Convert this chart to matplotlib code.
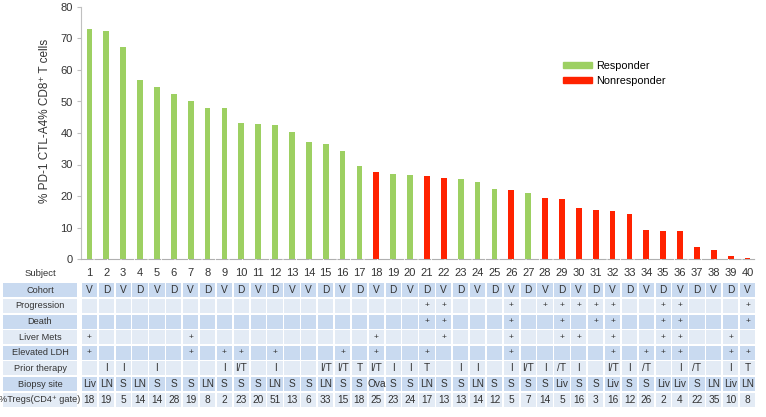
import matplotlib
matplotlib.use("Agg")
import matplotlib.pyplot as plt
from matplotlib.patches import Rectangle, Patch
from matplotlib.transforms import blended_transform_factory

plt.rcParams['font.family'] = ['Liberation Sans', 'DejaVu Sans']

# data
subjects = list(range(1, 41))
pct_pd1_ctla4 = [72.9, 72.5, 67.3, 56.7, 54.5, 52.4, 50.2, 48.0, 47.8, 43.2,
                 42.8, 42.5, 40.2, 37.1, 36.4, 34.3, 29.6, 27.7, 27.1, 26.8,
                 26.3, 25.6, 25.4, 24.5, 22.2, 21.9, 21.0, 19.5, 19.0, 16.2,
                 15.5, 15.2, 14.4, 9.1, 9.0, 9.0, 3.7, 2.9, 0.9, 0.3]
responder = ['R'] * 17 + ['N', 'R', 'R', 'N', 'N', 'R', 'R', 'R', 'N', 'R'] + ['N'] * 13

cohort = ['V', 'D', 'V', 'D', 'V', 'D', 'V', 'D', 'V', 'D', 'V', 'D', 'V', 'V',
          'D', 'V', 'D', 'V', 'D', 'V', 'D', 'V', 'D', 'V', 'D', 'V', 'D', 'V',
          'D', 'V', 'D', 'V', 'D', 'V', 'D', 'V', 'D', 'V', 'D', 'V']
progression = [21, 22, 26, 28, 29, 30, 31, 32, 35, 36, 40]
death = [21, 22, 26, 29, 31, 32, 35, 36, 40]
liver_mets = [1, 7, 18, 22, 26, 29, 30, 32, 35, 36, 39]
elevated_ldh = [1, 7, 9, 10, 12, 16, 18, 21, 26, 32, 34, 35, 36, 39, 40]
prior_therapy = ['', 'I', 'I', '', 'I', '', '', '', 'I', 'I/T',
                 '', 'I', '', '', 'I/T', 'I/T', 'T', 'I/T', 'I', 'I',
                 'T', '', 'I', 'I', '', 'I', 'I/T', 'I', '/T', 'I',
                 '', 'I/T', 'I', '/T', '', 'I', '/T', '', 'I', 'T']
biopsy_site = ['Liv', 'LN', 'S', 'LN', 'S', 'S', 'S', 'LN', 'S', 'S',
               'S', 'LN', 'S', 'S', 'LN', 'S', 'S', 'Ova', 'S', 'S',
               'LN', 'S', 'S', 'LN', 'S', 'S', 'S', 'S', 'Liv', 'S',
               'S', 'Liv', 'S', 'S', 'Liv', 'Liv', 'S', 'LN', 'Liv', 'LN']
tregs = [18, 19, 5, 14, 14, 28, 19, 8, 2, 23, 20, 51, 13, 6, 33, 15, 18, 25, 23, 24,
         17, 13, 13, 14, 12, 5, 7, 14, 5, 16, 3, 16, 12, 26, 2, 4, 22, 35, 10, 8]

green = '#9dd062'
red = '#ff2200'
dark_row = '#c9daf0'
light_row = '#e3ebf5'
txt = '#333333'

W, H = 766, 417
fig = plt.figure(figsize=(W / 100, H / 100), dpi=100)
ax = fig.add_axes([81 / W, 1 - 259 / H, 675 / W, 252 / H])

colors = [green if r == 'R' else red for r in responder]
ax.bar(subjects, pct_pd1_ctla4, width=0.34, color=colors)
ax.set_xlim(0.5, 40.5)
ax.set_ylim(0, 80)
ax.set_yticks(range(0, 81, 10))
ax.set_xticks([])
for s in ['top', 'right']:
    ax.spines[s].set_visible(False)
ax.spines['left'].set_color('#c0c0c0')
ax.spines['bottom'].set_color('#b0b0b0')
ax.spines['bottom'].set_linestyle((0, (10.4, 1.75)))
ax.tick_params(axis='y', length=3, color='#c0c0c0', labelsize=8, labelcolor=txt, pad=3)
fig.text(45 / W, 1 - 121 / H, '% PD-1 CTL-A4% CD8⁺ T cells', rotation=90,
         ha='center', va='center', fontsize=8.5, color=txt)

handles = [Patch(color=green, label='Responder'), Patch(color=red, label='Nonresponder')]
ax.legend(handles=handles, loc='upper left', bbox_to_anchor=(563 / W, 1 - 61 / H),
          bbox_transform=fig.transFigure, frameon=False, fontsize=7.8,
          handlelength=2.68, handleheight=0.5, handletextpad=0.35, labelspacing=0.45,
          borderaxespad=0, borderpad=0)

# table below the bars
tr = blended_transform_factory(ax.transData, fig.transFigure)
row_names = ['Cohort', 'Progression', 'Death', 'Liver Mets', 'Elevated LDH',
             'Prior therapy', 'Biopsy site', '%Tregs(CD4⁺ gate)']
plus = lambda lst: ['+' if s in lst else '' for s in subjects]
rows = [cohort, plus(progression), plus(death), plus(liver_mets), plus(elevated_ldh),
        prior_therapy, biopsy_site, [str(v) for v in tregs]]

y_subject = 1 - 273.5 / H
fig.text(40 / W, y_subject, 'Subject', ha='center', va='center', fontsize=6.8, color=txt)
for s in subjects:
    fig.text(s, y_subject, str(s), transform=tr, ha='center', va='center',
             fontsize=8, color=txt)

pitch = 15.63
cell_h = 14.0
for i, (name, vals) in enumerate(zip(row_names, rows)):
    yc = 290.3 + i * pitch
    y0 = 1 - (yc + cell_h / 2) / H
    fc = dark_row if i % 2 == 0 else light_row
    fig.patches.append(Rectangle((3 / W, y0), 74 / W, cell_h / H, transform=fig.transFigure,
                                 facecolor=fc, edgecolor='none'))
    fig.text(40 / W, 1 - yc / H, name, ha='center', va='center', fontsize=6.6, color=txt)
    for s, v in zip(subjects, vals):
        fig.patches.append(Rectangle((s - 0.45, y0), 0.9, cell_h / H, transform=tr,
                                     facecolor=fc, edgecolor='none'))
        if v:
            fs = 6 if v == '+' else 7.3
            fig.text(s, 1 - yc / H, v, transform=tr, ha='center', va='center',
                     fontsize=fs, color=txt)

fig.savefig('out.png', dpi=100)
